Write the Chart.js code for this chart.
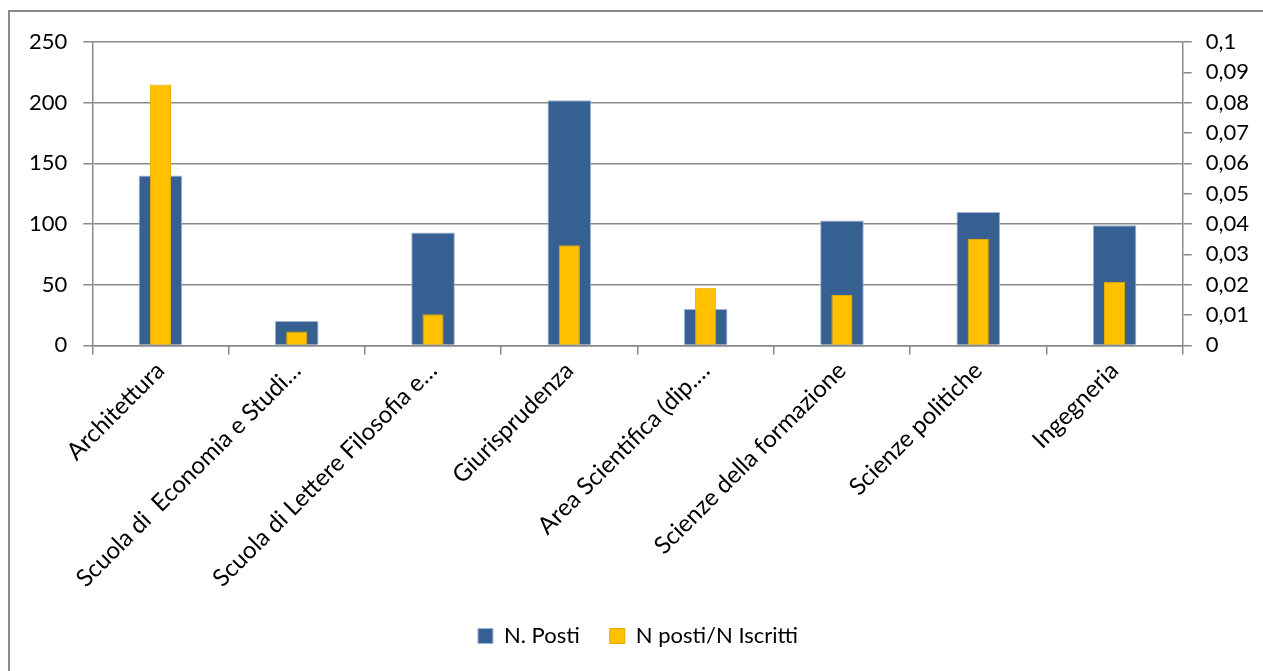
<!DOCTYPE html>
<html>
<head>
<meta charset="utf-8">
<script src="https://cdn.jsdelivr.net/npm/chart.js@4/dist/chart.umd.min.js"></script>
<style>
  html, body { margin: 0; padding: 0; background: #fff; overflow: hidden; }
  #wrap { position: absolute; left: 0; top: 0; width: 1263px; height: 671px; }
  #frame { position: absolute; left: 8px; top: 10px; width: 1300px; height: 700px;
           border-left: 2px solid #8a8a8a; border-top: 2px solid #8a8a8a; }
</style>
</head>
<body>
<div id="frame"></div>
<div id="wrap"><canvas id="chart"></canvas></div>
<script>
// Data
const categories = [
    'Architettura',
    'Scuola di  Economia e Studi…',
    'Scuola di Lettere Filosofia e…',
    'Giurisprudenza',
    'Area Scientifica (dip.…',
    'Scienze della formazione',
    'Scienze politiche',
    'Ingegneria'
];
const nPosti = [140, 20, 93, 202, 30, 103, 110, 99];
const rapportoIscritti = [0.086, 0.0046, 0.0103, 0.033, 0.019, 0.0166, 0.0351, 0.021];

// Tick values
const leftTicks = [0, 50, 100, 150, 200, 250];
const rightTicks = [0, 0.01, 0.02, 0.03, 0.04, 0.05, 0.06, 0.07, 0.08, 0.09, 0.1];

const COLORS = {
    blue: '#366092',
    yellow: '#FFC000',
    axis: '#8a8a8a',
    text: '#000000'
};

const FONT = { family: 'Lato, "Liberation Sans", sans-serif', size: 22 };
const LABEL_FONT = { family: FONT.family, size: 24 };

function commaNum(v) {
    return String(Math.round(v * 100) / 100).replace('.', ',');
}

Chart.defaults.font.family = FONT.family;
Chart.defaults.font.size = FONT.size;
Chart.defaults.color = COLORS.text;

const ctx = document.getElementById('chart').getContext('2d');
new Chart(ctx, {
    type: 'bar',
    data: {
        labels: categories,
        datasets: [
            {
                label: 'N. Posti',
                data: nPosti,
                backgroundColor: COLORS.blue,
                borderColor: '#9fb3cf',
                borderWidth: 1,
                yAxisID: 'y',
                grouped: false,
                barPercentage: 0.32,
                categoryPercentage: 1,
                order: 2
            },
            {
                label: 'N posti/N Iscritti',
                data: rapportoIscritti,
                backgroundColor: COLORS.yellow,
                borderColor: '#e0aa00',
                borderWidth: 1,
                yAxisID: 'y1',
                grouped: false,
                barPercentage: 0.155,
                categoryPercentage: 1,
                order: 1
            }
        ]
    },
    options: {
        responsive: true,
        maintainAspectRatio: false,
        animation: false,
        layout: { padding: { top: 42, left: 13, right: 0, bottom: 14 } },
        plugins: {
            tooltip: { enabled: false },
            legend: {
                position: 'bottom',
                reverse: true,
                labels: {
                    boxWidth: 15,
                    boxHeight: 15,
                    padding: 30,
                    font: FONT,
                    color: COLORS.text
                }
            }
        },
        scales: {
            x: {
                offset: true,
                grid: {
                    offset: true,
                    drawOnChartArea: false,
                    color: COLORS.axis,
                    lineWidth: 1.5,
                    tickLength: 9
                },
                border: { color: COLORS.axis, width: 1.5 },
                ticks: {
                    minRotation: 45,
                    maxRotation: 45,
                    autoSkip: false,
                    padding: 2,
                    font: LABEL_FONT,
                    color: COLORS.text
                }
            },
            y: {
                position: 'left',
                min: 0,
                max: 250,
                afterBuildTicks: (scale) => {
                    scale.ticks = leftTicks.map(v => ({ value: v }));
                },
                grid: {
                    color: COLORS.axis,
                    lineWidth: 1.5,
                    tickLength: 9
                },
                border: { color: COLORS.axis, width: 1.5 },
                ticks: {
                    padding: 16,
                    font: FONT,
                    color: COLORS.text
                }
            },
            y1: {
                position: 'right',
                min: 0,
                max: 0.1,
                afterBuildTicks: (scale) => {
                    scale.ticks = rightTicks.map(v => ({ value: v }));
                },
                grid: {
                    drawOnChartArea: false,
                    color: COLORS.axis,
                    lineWidth: 1.5,
                    tickLength: 9
                },
                border: { color: COLORS.axis, width: 1.5 },
                ticks: {
                    padding: 14,
                    font: FONT,
                    color: COLORS.text,
                    callback: (v) => commaNum(v)
                }
            }
        }
    }
});
</script>
</body>
</html>
